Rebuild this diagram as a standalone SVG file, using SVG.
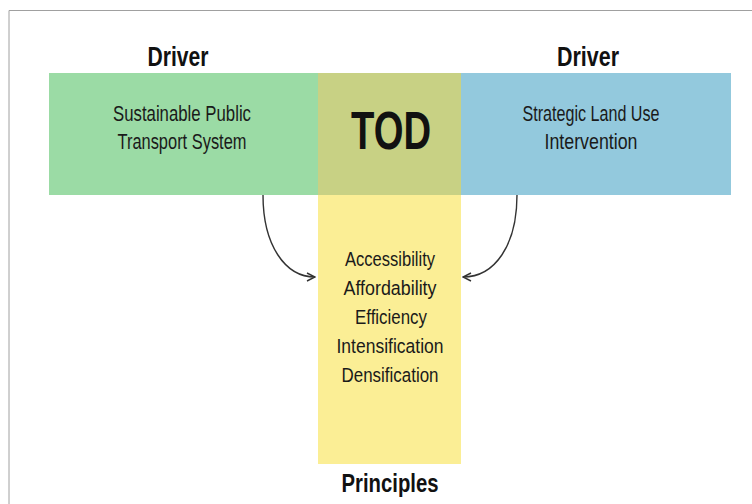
<svg xmlns="http://www.w3.org/2000/svg" width="752" height="504" viewBox="0 0 752 504">
<style>
.t{font-family:"Liberation Sans",Arial,sans-serif;fill:#1a1a1a;text-anchor:middle}
.b{font-weight:bold;fill:#111}
.c{fill:none;stroke:#333;stroke-width:1.4}
</style>
<defs>
<marker id="ah" viewBox="0 0 10 10" refX="9" refY="5" markerWidth="10" markerHeight="10" markerUnits="userSpaceOnUse" orient="auto">
<path d="M1,1 L9,5 L1,9" fill="none" stroke="#333" stroke-width="1.4"/>
</marker>
</defs>
<rect width="752" height="504" fill="#fff"/>
<path d="M9,504 V10.5 H752" fill="none" stroke="#a0a0a0" stroke-width="1"/>
<g id="principles">
<rect x="318" y="195" width="143" height="269" fill="#fbee95"/>
<text class="t" x="390" y="266" font-size="20.5" textLength="90" lengthAdjust="spacingAndGlyphs">Accessibility</text>
<text class="t" x="390" y="295" font-size="20.5" textLength="93" lengthAdjust="spacingAndGlyphs">Affordability</text>
<text class="t" x="391" y="324" font-size="20.5" textLength="72" lengthAdjust="spacingAndGlyphs">Efficiency</text>
<text class="t" x="390" y="353" font-size="20.5" textLength="107" lengthAdjust="spacingAndGlyphs">Intensification</text>
<text class="t" x="390" y="382" font-size="20.5" textLength="97" lengthAdjust="spacingAndGlyphs">Densification</text>
<text class="t b" x="390" y="492" font-size="26" textLength="97" lengthAdjust="spacingAndGlyphs">Principles</text>
</g>
<g id="driver-transport">
<rect x="49" y="73" width="269" height="122" fill="#9bdba5"/>
<text class="t" x="182" y="121" font-size="22.5" textLength="138" lengthAdjust="spacingAndGlyphs">Sustainable Public</text>
<text class="t" x="182" y="149" font-size="22.5" textLength="129" lengthAdjust="spacingAndGlyphs">Transport System</text>
<text class="t b" x="178" y="66" font-size="27" textLength="61" lengthAdjust="spacingAndGlyphs">Driver</text>
</g>
<g id="driver-landuse">
<rect x="461" y="73" width="270" height="122" fill="#93c9dd"/>
<text class="t" x="591" y="121" font-size="22.5" textLength="137" lengthAdjust="spacingAndGlyphs">Strategic Land Use</text>
<text class="t" x="591" y="149" font-size="22.5" textLength="93" lengthAdjust="spacingAndGlyphs">Intervention</text>
<text class="t b" x="588" y="66" font-size="27" textLength="62" lengthAdjust="spacingAndGlyphs">Driver</text>
</g>
<g id="tod">
<rect x="318" y="73" width="143" height="122" fill="#c8d184"/>
<text class="t b" x="391" y="149" font-size="54" textLength="80" lengthAdjust="spacingAndGlyphs">TOD</text>
</g>
<g id="connectors">
<path class="c" d="M263,195 C263,245 285,277 315,277" marker-end="url(#ah)"/>
<path class="c" d="M517,195 C517,245 495,277 463,277" marker-end="url(#ah)"/>
</g>
</svg>
